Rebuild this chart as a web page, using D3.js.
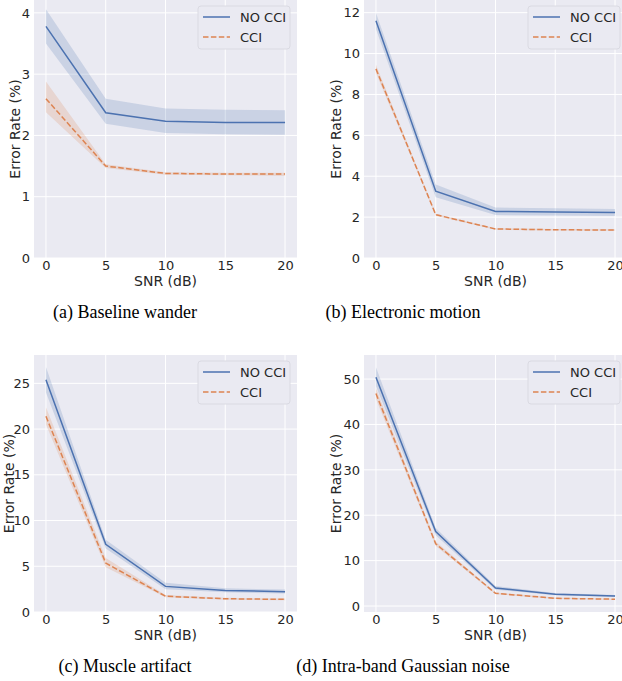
<!DOCTYPE html>
<html>
<head>
<meta charset="utf-8">
<title>Error rate vs SNR</title>
<script src="https://d3js.org/d3.v7.min.js"></script>
<style>
  body { margin: 0; background: #fff; }
  svg text { font-family: "DejaVu Sans", sans-serif; fill: #262626; }
  .caption { font-family: "Liberation Serif", "Times New Roman", serif; fill: #000; }
</style>
</head>
<body>
<svg id="chart" width="622" height="681"></svg>
<script>
// x values shared by every panel
var snr = [0, 5, 10, 15, 20];
var xTicks = [0, 5, 10, 15, 20];
var seriesNames = ["NO CCI", "CCI"];

// (a) Baseline wander
var bwNo = [3.78, 2.37, 2.23, 2.21, 2.21];
var bwNoLo = [3.50, 2.19, 2.04, 2.02, 2.01];
var bwNoHi = [4.06, 2.60, 2.44, 2.42, 2.41];
var bwCci = [2.60, 1.50, 1.38, 1.37, 1.37];
var bwCciLo = [2.38, 1.47, 1.36, 1.35, 1.34];
var bwCciHi = [2.88, 1.53, 1.40, 1.39, 1.39];
var bwTicks = [0, 1, 2, 3, 4];

// (b) Electronic motion
var emNo = [11.6, 3.27, 2.28, 2.25, 2.22];
var emNoLo = [11.2, 2.97, 2.10, 2.08, 2.05];
var emNoHi = [12.0, 3.60, 2.47, 2.43, 2.40];
var emCci = [9.25, 2.12, 1.42, 1.38, 1.37];
var emCciLo = [9.05, 2.07, 1.38, 1.34, 1.33];
var emCciHi = [9.45, 2.17, 1.46, 1.42, 1.41];
var emTicks = [0, 2, 4, 6, 8, 10, 12];

// (c) Muscle artifact
var maNo = [25.4, 7.4, 2.8, 2.35, 2.22];
var maNoLo = [24.0, 6.95, 2.5, 2.15, 2.02];
var maNoHi = [26.8, 7.9, 3.2, 2.6, 2.45];
var maCci = [21.4, 5.35, 1.72, 1.45, 1.38];
var maCciLo = [20.5, 4.9, 1.6, 1.35, 1.28];
var maCciHi = [22.4, 5.9, 1.85, 1.55, 1.48];
var maTicks = [0, 5, 10, 15, 20, 25];

// (d) Intra-band Gaussian noise
var gnNo = [50.4, 16.4, 3.95, 2.6, 2.2];
var gnNoLo = [48.4, 15.6, 3.6, 2.35, 2.0];
var gnNoHi = [52.6, 17.2, 4.4, 2.85, 2.45];
var gnCci = [46.8, 13.7, 2.8, 1.7, 1.5];
var gnCciLo = [45.6, 13.2, 2.6, 1.55, 1.38];
var gnCciHi = [48.0, 14.2, 3.0, 1.85, 1.62];
var gnTicks = [0, 10, 20, 30, 40, 50];

var colors = ["#4C72B0", "#DD8452"];

var panels = [
  {caption: "(a) Baseline wander", left: 34, top: 0, bottom: 258, yDomain: [0, 4.21], ticks: bwTicks,
   series: [[bwNo, bwNoLo, bwNoHi], [bwCci, bwCciLo, bwCciHi]]},
  {caption: "(b) Electronic motion", left: 364, top: 0, bottom: 258, yDomain: [0, 12.62], ticks: emTicks,
   series: [[emNo, emNoLo, emNoHi], [emCci, emCciLo, emCciHi]]},
  {caption: "(c) Muscle artifact", left: 34, top: 355, bottom: 612, yDomain: [0, 28.1], ticks: maTicks,
   series: [[maNo, maNoLo, maNoHi], [maCci, maCciLo, maCciHi]]},
  {caption: "(d) Intra-band Gaussian noise", left: 364, top: 355, bottom: 612, yDomain: [-1.32, 55.3], ticks: gnTicks,
   series: [[gnNo, gnNoLo, gnNoHi], [gnCci, gnCciLo, gnCciHi]]}
];

var plotW = 263;
var svg = d3.select("#chart");

panels.forEach(function(p, pi) {
  var w = plotW, h = p.bottom - p.top;
  var g = svg.append("g").attr("transform", "translate(" + p.left + "," + p.top + ")");

  var x = d3.scaleLinear().domain([-1, 21]).range([0, w]);
  var y = d3.scaleLinear().domain(p.yDomain).range([h, 0]);

  g.append("rect").attr("width", w).attr("height", h).attr("fill", "#EAEAF2");

  // grid
  g.selectAll(".gx").data(xTicks).enter().append("line")
    .attr("x1", function(d) { return x(d); }).attr("x2", function(d) { return x(d); })
    .attr("y1", 0).attr("y2", h)
    .attr("stroke", "#fff").attr("stroke-width", 1);
  g.selectAll(".gy").data(p.ticks).enter().append("line")
    .attr("y1", function(d) { return y(d); }).attr("y2", function(d) { return y(d); })
    .attr("x1", 0).attr("x2", w)
    .attr("stroke", "#fff").attr("stroke-width", 1);

  var clipId = "clip" + pi;
  g.append("clipPath").attr("id", clipId).append("rect").attr("width", w).attr("height", h);
  var plot = g.append("g").attr("clip-path", "url(#" + clipId + ")");

  p.series.forEach(function(s, si) {
    var rows = snr.map(function(v, i) { return {x: v, m: s[0][i], lo: s[1][i], hi: s[2][i]}; });
    var area = d3.area()
      .x(function(d) { return x(d.x); })
      .y0(function(d) { return y(d.lo); })
      .y1(function(d) { return y(d.hi); });
    var line = d3.line()
      .x(function(d) { return x(d.x); })
      .y(function(d) { return y(d.m); });
    plot.append("path").datum(rows).attr("d", area)
      .attr("fill", colors[si]).attr("fill-opacity", 0.2);
    plot.append("path").datum(rows).attr("d", line)
      .attr("fill", "none").attr("stroke", colors[si]).attr("stroke-width", 1.5)
      .attr("stroke-dasharray", si == 1 ? "5.5,2.4" : null);
  });

  // axes
  var yAxis = g.append("g").call(d3.axisLeft(y).tickValues(p.ticks).tickFormat(d3.format("d"))
    .tickSize(0).tickPadding(4));
  yAxis.select(".domain").remove();
  yAxis.selectAll("text").attr("font-size", 13).attr("font-family", "DejaVu Sans").attr("fill", "#262626");

  var xAxis = g.append("g").attr("transform", "translate(0," + h + ")")
    .call(d3.axisBottom(x).tickValues(xTicks).tickFormat(d3.format("d")).tickSize(0).tickPadding(3));
  xAxis.select(".domain").remove();
  xAxis.selectAll("text").attr("font-size", 13).attr("font-family", "DejaVu Sans").attr("fill", "#262626");

  // y label sits left of the tick labels, but never past the page edge
  var bb = yAxis.node().getBBox();
  var labelX = Math.max(bb.x - 2, -p.left + 14);
  g.append("text")
    .attr("transform", "translate(" + labelX + "," + (h / 2) + ") rotate(-90)")
    .attr("text-anchor", "middle")
    .attr("font-size", 14)
    .text("Error Rate (%)");

  g.append("text")
    .attr("x", w / 2).attr("y", h + 28)
    .attr("text-anchor", "middle")
    .attr("font-size", 14)
    .text("SNR (dB)");

  // legend
  var lg = g.append("g").attr("transform", "translate(" + (w - 99) + ",6)");
  lg.append("rect").attr("width", 92).attr("height", 43).attr("rx", 3)
    .attr("fill", "#EAEAF2").attr("stroke", "#dadae2").attr("stroke-width", 1);
  seriesNames.forEach(function(name, si) {
    var ly = 11 + si * 20;
    lg.append("line").attr("x1", 5).attr("x2", 32).attr("y1", ly).attr("y2", ly)
      .attr("stroke", colors[si]).attr("stroke-width", 1.5)
      .attr("stroke-dasharray", si == 1 ? "5.5,2.4" : null);
    lg.append("text").attr("x", 42).attr("y", ly).attr("dy", "0.35em")
      .attr("font-size", 13).text(name);
  });

  // caption
  svg.append("text").attr("class", "caption")
    .attr("x", p.left + (pi % 2 == 0 ? 91 : 39)).attr("y", p.bottom + 60)
    .attr("text-anchor", "middle")
    .attr("font-size", 18)
    .text(p.caption);
});
</script>
</body>
</html>
